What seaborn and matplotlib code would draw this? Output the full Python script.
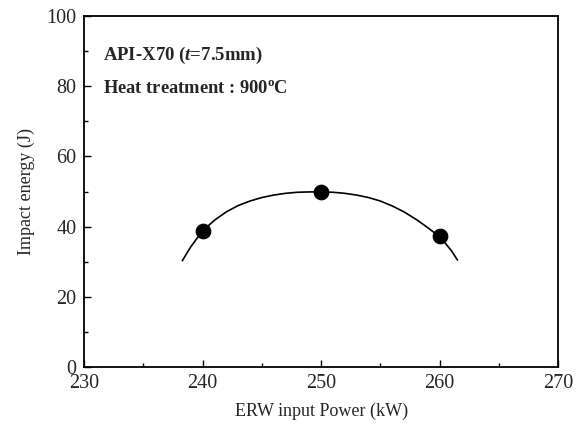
import matplotlib
matplotlib.use("Agg")
import matplotlib.pyplot as plt
import seaborn as sns
import pandas as pd
from matplotlib.ticker import MultipleLocator

# measured points
power = [240, 250, 260]
energy = [38.7, 49.8, 37.3]

# fitted curve
curve_x = [238.3, 238.6, 239, 239.5, 240, 240.5, 241, 242, 243, 244, 245, 246, 247, 248, 249, 250,
           251, 252, 253, 254, 255, 256, 257, 258, 259, 259.5, 260, 260.5, 261, 261.5]
curve_y = [30.3, 32.0, 34.2, 36.5, 38.6, 40.3, 41.8, 44.2, 46.0, 47.3, 48.3, 49.0, 49.5, 49.8, 49.9, 49.9,
           49.8, 49.5, 49.0, 48.3, 47.3, 45.9, 44.2, 42.1, 39.7, 38.4, 36.9, 35.2, 33.1, 30.5]

x_ticks = [230, 240, 250, 260, 270]
y_ticks = [0, 20, 40, 60, 80, 100]

sns.set_style("ticks")
plt.rcParams['font.family'] = ['Liberation Serif', 'DejaVu Serif']
plt.rcParams['mathtext.fontset'] = 'custom'
plt.rcParams['mathtext.it'] = 'Liberation Serif:italic:bold'
plt.rcParams['mathtext.bf'] = 'Liberation Serif:bold'
plt.rcParams['mathtext.rm'] = 'Liberation Serif:bold'

fig = plt.figure(figsize=(5.87, 4.25), dpi=100)
ax = fig.add_axes([0.143, 0.1365, 0.808, 0.8255])

df_curve = pd.DataFrame({"x": curve_x, "y": curve_y})
df_pts = pd.DataFrame({"x": power, "y": energy})

sns.lineplot(data=df_curve, x="x", y="y", ax=ax, color="black", linewidth=1.2, sort=False)
sns.scatterplot(data=df_pts, x="x", y="y", ax=ax, color="black", s=110, edgecolor="black", zorder=3)

ax.set_xlim(230, 270)
ax.set_ylim(0, 100)
ax.set_xticks(x_ticks)
ax.set_yticks(y_ticks)
ax.xaxis.set_minor_locator(MultipleLocator(5))
ax.yaxis.set_minor_locator(MultipleLocator(10))
ax.tick_params(which='both', direction='in', top=False, right=False, labelsize=14.5, color='black', width=1.0)
ax.tick_params(which='major', length=5)
ax.tick_params(which='minor', length=3)
ax.tick_params(axis='y', which='major', pad=5.5)
ax.tick_params(axis='x', which='major', pad=5)
for s in ax.spines.values():
    s.set_linewidth(1.3)
    s.set_color('black')
    s.set_visible(True)

ax.set_xlabel("ERW input Power (kW)", fontsize=13, labelpad=7)
ax.set_ylabel("Impact energy (J)", fontsize=13, labelpad=8)

ax.text(0.040, 0.889, r"API-X70 ($t$=7.5mm)", transform=ax.transAxes, fontsize=13.5,
        fontweight='bold', va='center', ha='left')
ax.text(0.040, 0.795, r"Heat treatment : 900$^{\mathbf{o}}$C", transform=ax.transAxes, fontsize=13.3,
        fontweight='bold', va='center', ha='left')

fig.savefig("out.png", dpi=100)
